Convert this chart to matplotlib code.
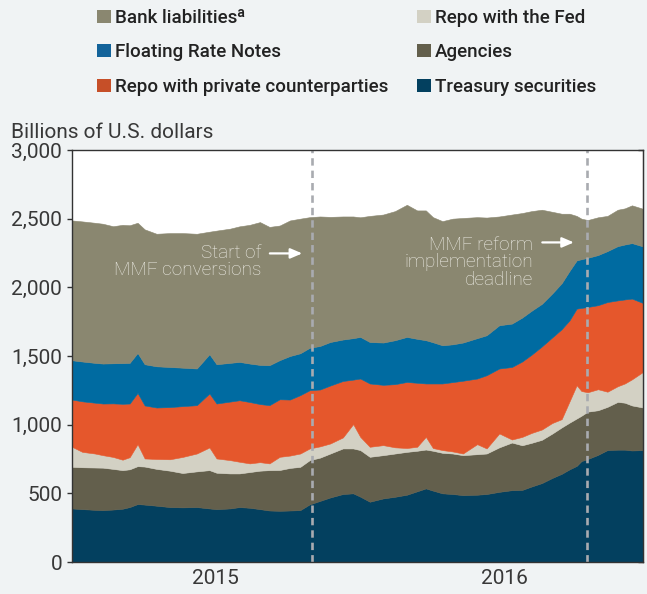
import matplotlib
matplotlib.use("Agg")
import matplotlib.pyplot as plt
from matplotlib.patches import Patch
import pandas as pd

# weekly-ish readings, billions of U.S. dollars
dates = [
    "2015-01-01", "2015-01-14", "2015-01-30", "2015-02-09", "2015-02-22", "2015-03-06",
    "2015-03-15", "2015-03-25", "2015-04-03", "2015-04-18", "2015-05-05", "2015-05-21",
    "2015-06-08", "2015-06-24", "2015-07-03", "2015-07-20", "2015-08-01", "2015-08-14",
    "2015-08-27", "2015-09-08", "2015-09-21", "2015-10-04", "2015-10-17", "2015-10-29",
    "2015-11-11", "2015-11-24", "2015-12-10", "2015-12-23", "2016-01-01", "2016-01-13",
    "2016-01-30", "2016-02-14", "2016-02-29", "2016-03-13", "2016-03-24", "2016-04-02",
    "2016-04-14", "2016-04-27", "2016-05-10", "2016-05-28", "2016-06-09", "2016-06-25",
    "2016-07-11", "2016-07-24", "2016-08-05", "2016-08-18", "2016-08-31", "2016-09-12",
    "2016-09-22", "2016-10-01", "2016-10-07", "2016-10-15", "2016-10-28", "2016-11-09",
    "2016-11-22", "2016-12-01", "2016-12-10", "2016-12-24",
]
treasury = [390, 385, 380, 378, 382, 388, 400, 422, 418, 410, 400, 398, 400, 390, 385, 390,
            400, 395, 385, 375, 373, 375, 378, 420, 445, 470, 495, 500, 476, 439, 463, 475,
            490, 515, 536, 520, 500, 495, 487, 490, 495, 511, 523, 525, 550, 575, 612, 642,
            675, 700, 735, 750, 780, 815, 818, 818, 812, 815]
agencies = [303, 305, 308, 309, 296, 281, 275, 276, 277, 268, 265, 250, 260, 279, 265, 255,
            245, 260, 280, 294, 297, 310, 315, 322, 315, 320, 332, 327, 339, 327, 315, 315,
            312, 295, 283, 290, 295, 295, 291, 295, 295, 324, 347, 325, 318, 315, 323, 338,
            340, 345, 330, 345, 325, 315, 348, 342, 328, 310]
repo_fed = [146, 112, 102, 91, 87, 76, 88, 160, 59, 72, 83, 117, 130, 165, 104, 97,
            85, 63, 62, 49, 96, 90, 97, 85, 82, 73, 80, 177, 96, 73, 73, 45,
            28, 29, 92, 20, 20, 15, 12, 73, 37, 101, 22, 61, 72, 75, 77, 60,
            155, 242, 180, 141, 153, 110, 114, 140, 190, 259]
repo_private = [344, 368, 370, 376, 390, 407, 391, 373, 386, 375, 380, 370, 352, 393, 400, 426,
                448, 447, 423, 424, 419, 408, 425, 424, 414, 422, 411, 324, 425, 461, 439, 460,
                481, 466, 389, 470, 485, 505, 530, 478, 533, 473, 528, 549, 570, 605, 623, 655,
                590, 558, 605, 621, 612, 653, 625, 612, 588, 502]
frn = [286, 290, 290, 291, 292, 296, 296, 291, 300, 300, 292, 280, 267, 286, 286, 282,
       279, 280, 285, 291, 285, 317, 305, 309, 317, 317, 302, 302, 303, 302, 308, 320,
       328, 320, 315, 300, 278, 275, 278, 294, 291, 315, 316, 320, 320, 310, 320, 335,
       360, 351, 355, 358, 365, 371, 395, 400, 404, 412]
bank = [1018, 1020, 1020, 1018, 998, 1007, 1002, 948, 982, 965, 975, 980, 981, 892, 973, 977,
        987, 1010, 1040, 1007, 980, 987, 980, 951, 943, 911, 896, 886, 871, 918, 932, 940,
        962, 935, 945, 911, 904, 915, 907, 881, 857, 792, 794, 761, 725, 685, 595, 506,
        416, 324, 295, 275, 275, 256, 265, 263, 275, 274]

series_labels = ["Treasury securities", "Agencies", "Repo with the Fed",
                 "Repo with private counterparties", "Floating Rate Notes", "Bank liabilities\u1d43"]
series_colors = ["#03405F", "#635F4C", "#D3D1C4", "#E5572C", "#006BA1", "#8A8770"]
legend_colors = ["#03405F", "#635F4C", "#D3D1C4", "#C64F28", "#13639A", "#8A8770"]

event_dates = ["2015-11-01", "2016-10-14"]
year_labels = ["2015", "2016"]
year_centers = ["2015-07-01", "2016-07-01"]
yticks = [0, 500, 1000, 1500, 2000, 2500, 3000]

bg = "#F0F3F4"
txt = "#383838"
font = ["Roboto", "DejaVu Sans"]
fs = 15

x = pd.to_datetime(dates)

fig = plt.figure(figsize=(6.47, 5.94), dpi=100, facecolor=bg)
ax = fig.add_axes([72 / 647, 32 / 594, 571 / 647, 412 / 594])
ax.set_facecolor("white")

ax.stackplot(x, treasury, agencies, repo_fed, repo_private, frn, bank,
             colors=series_colors, linewidth=0.4, edgecolor="face")

for d in event_dates:
    ax.axvline(pd.Timestamp(d), color="#A9ABB0", lw=1.9, dashes=(2.8, 1.9))

ax.set_xlim(pd.Timestamp("2015-01-01"), pd.Timestamp("2016-12-24"))
ax.set_ylim(0, 3000)

ax.set_yticks(yticks)
ax.set_yticklabels([f"{v:,}" for v in yticks], family=font, fontsize=fs, color=txt)
ax.tick_params(axis="y", direction="out", length=3.6, width=1, pad=3.5, color="#333333")
ax.set_xticks(pd.to_datetime(year_centers))
ax.set_xticklabels(year_labels, family=font, fontsize=fs, color=txt)
ax.tick_params(axis="x", length=0, pad=5)

right = ax.secondary_yaxis("right")
right.set_yticks(yticks)
right.set_yticklabels([])
right.tick_params(direction="in", length=3.6, width=1, color="#333333")
right.spines["right"].set_color("#333333")

for s in ax.spines.values():
    s.set_color("#333333")
    s.set_linewidth(1)

# annotations
note = "#EEEDE6"
afs = 13.7
ax.text(pd.Timestamp("2015-08-29"), 2188, "Start of\nMMF conversions", ha="right", va="center",
        multialignment="right", color=note, family=font, weight="light", fontsize=afs, linespacing=0.95)
ax.annotate("", xy=(pd.Timestamp("2015-10-23"), 2247), xytext=(pd.Timestamp("2015-09-05"), 2247),
            arrowprops=dict(arrowstyle="-|>,head_length=0.7,head_width=0.3", color="white", lw=1.6))
ax.text(pd.Timestamp("2016-08-07"), 2182, "MMF reform\nimplementation\ndeadline", ha="right", va="center",
        multialignment="right", color=note, family=font, weight="light", fontsize=afs, linespacing=0.95)
ax.annotate("", xy=(pd.Timestamp("2016-10-01"), 2327), xytext=(pd.Timestamp("2016-08-15"), 2327),
            arrowprops=dict(arrowstyle="-|>,head_length=0.7,head_width=0.3", color="white", lw=1.6))

fig.text(11 / 647, 1 - 132 / 594, "Billions of U.S. dollars", ha="left", va="center",
         family=font, fontsize=fs, color=txt)

# legend, two columns
handles = [Patch(facecolor=c, edgecolor="none") for c in legend_colors]
left_idx = [5, 4, 3]
right_idx = [2, 1, 0]
legend_kw = dict(frameon=False, loc="upper left", borderpad=0, borderaxespad=0,
                 handlelength=0.75, handleheight=0.7, handletextpad=0.2, labelspacing=0.87,
                 prop=dict(family=font, weight="medium", size=13.5), labelcolor="#222222")
fig.legend([handles[i] for i in left_idx], [series_labels[i] for i in left_idx],
           bbox_to_anchor=(97 / 647, 1 - 9 / 594), **legend_kw)
fig.legend([handles[i] for i in right_idx], [series_labels[i] for i in right_idx],
           bbox_to_anchor=(417 / 647, 1 - 9 / 594), **legend_kw)

fig.savefig("out.png", dpi=100, facecolor=bg)
